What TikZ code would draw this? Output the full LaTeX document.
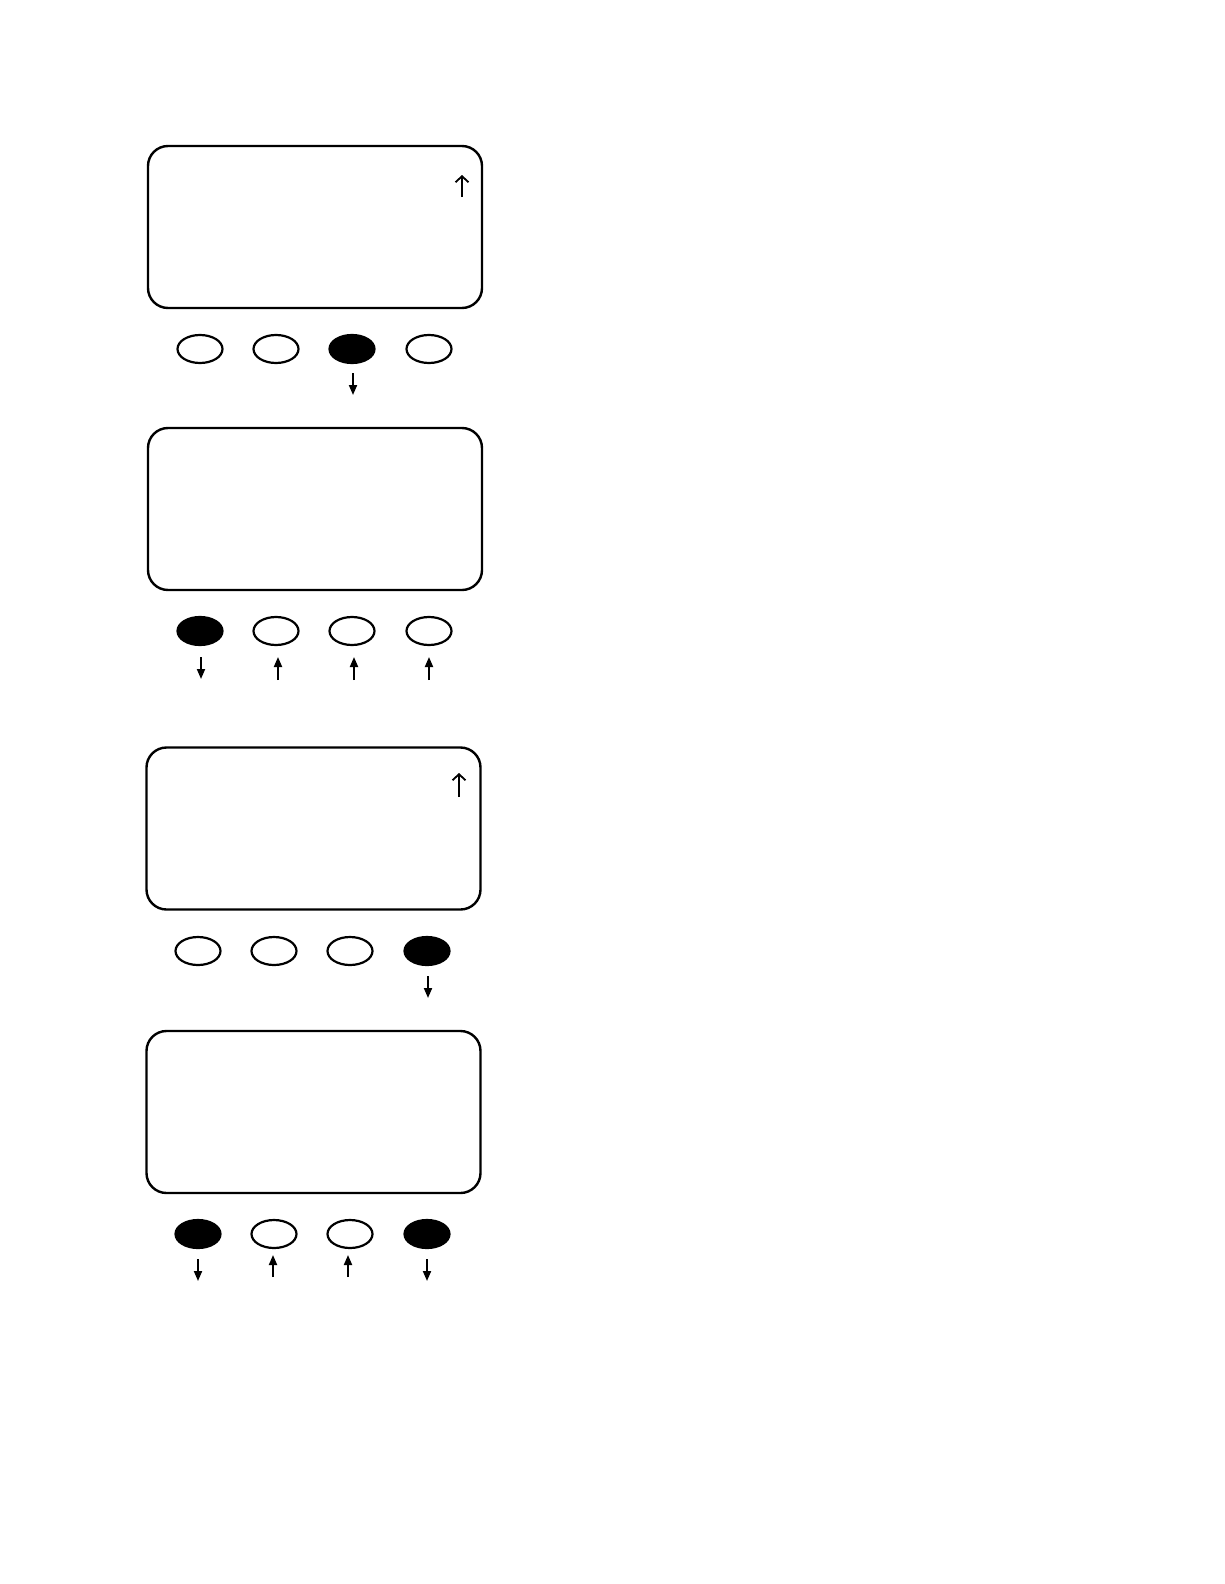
\documentclass[tikz,border=0pt]{standalone}
\usetikzlibrary{shapes.geometric,arrows.meta}
\begin{document}
\begin{tikzpicture}[x=1pt,y=-1pt,
  screen/.style={draw, line width=2.4pt, rounded corners=20pt, minimum width=334pt, minimum height=162pt, inner sep=0pt},
  keyoff/.style={draw, ellipse, line width=2.2pt, minimum width=45pt, minimum height=28pt, inner sep=0pt, fill=white},
  keyon/.style={keyoff, fill=black},
  press/.style={line width=1.9pt, -{Triangle[length=10pt,width=8pt]}},
  scroll/.style={line width=1.8pt, -{Straight Barb[length=6pt,width=13pt,line width=1.8pt]}}
]
\useasboundingbox (0,0) rectangle (1224,1584);
% Panel 1
\node[screen] (s1) at (315,227) {};
\coordinate (s1a) at (462,197); \coordinate (s1b) at (462,175);
\draw[scroll] (s1a) -- (s1b);
\node[keyoff] (k11) at (200,349) {};
\node[keyoff] (k12) at (276,349) {};
\node[keyon]  (k13) at (352,349) {};
\node[keyoff] (k14) at (429,349) {};
\coordinate (p13a) at (353,373); \coordinate (p13b) at (353,395);
\draw[press] (p13a) -- (p13b);
% Panel 2
\node[screen] (s2) at (315,509) {};
\node[keyon]  (k21) at (200,631) {};
\node[keyoff] (k22) at (276,631) {};
\node[keyoff] (k23) at (352,631) {};
\node[keyoff] (k24) at (429,631) {};
\coordinate (p21a) at (201,657); \coordinate (p21b) at (201,679);
\draw[press] (p21a) -- (p21b);
\coordinate (p22a) at (278,680); \coordinate (p22b) at (278,657);
\draw[press] (p22a) -- (p22b);
\coordinate (p23a) at (354,680); \coordinate (p23b) at (354,657);
\draw[press] (p23a) -- (p23b);
\coordinate (p24a) at (429,680); \coordinate (p24b) at (429,657);
\draw[press] (p24a) -- (p24b);
% Panel 3
\node[screen] (s3) at (313.5,828.5) {};
\coordinate (s3a) at (459,797); \coordinate (s3b) at (459,773);
\draw[scroll] (s3a) -- (s3b);
\node[keyoff] (k31) at (198,951) {};
\node[keyoff] (k32) at (274,951) {};
\node[keyoff] (k33) at (350,951) {};
\node[keyon]  (k34) at (427,951) {};
\coordinate (p34a) at (428,976); \coordinate (p34b) at (428,998);
\draw[press] (p34a) -- (p34b);
% Panel 4
\node[screen] (s4) at (313.5,1112) {};
\node[keyon]  (k41) at (198,1234) {};
\node[keyoff] (k42) at (274,1234) {};
\node[keyoff] (k43) at (350,1234) {};
\node[keyon]  (k44) at (427,1234) {};
\coordinate (p41a) at (198,1259); \coordinate (p41b) at (198,1281);
\draw[press] (p41a) -- (p41b);
\coordinate (p42a) at (273,1277); \coordinate (p42b) at (273,1255);
\draw[press] (p42a) -- (p42b);
\coordinate (p43a) at (348,1277); \coordinate (p43b) at (348,1255);
\draw[press] (p43a) -- (p43b);
\coordinate (p44a) at (427,1259); \coordinate (p44b) at (427,1281);
\draw[press] (p44a) -- (p44b);
\end{tikzpicture}
\end{document}
